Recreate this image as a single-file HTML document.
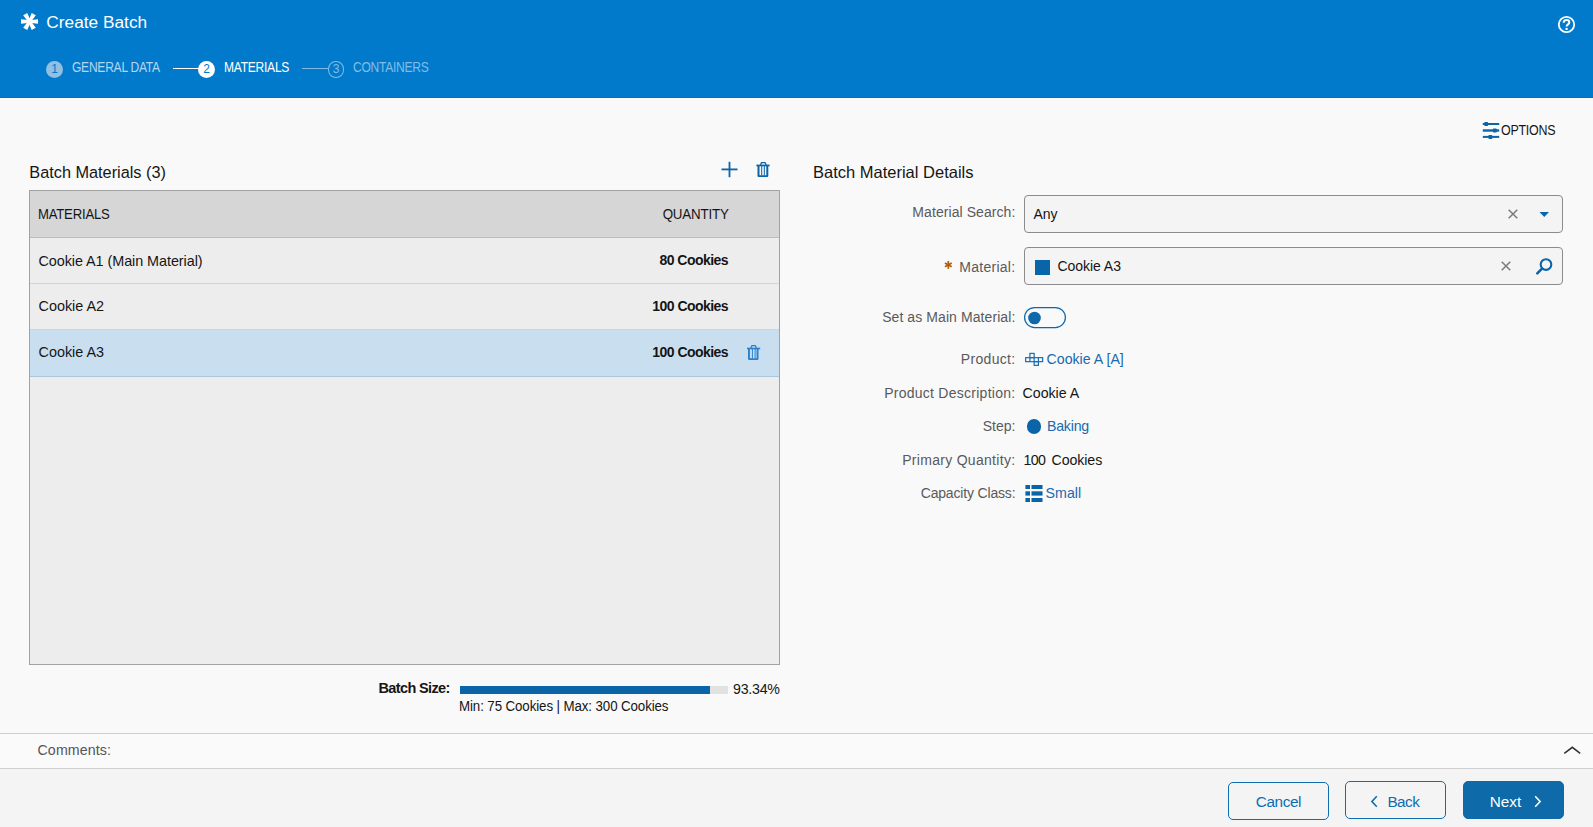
<!DOCTYPE html>
<html>
<head>
<meta charset="utf-8">
<title>Create Batch</title>
<style>
*{box-sizing:border-box;margin:0;padding:0}
html,body{width:1593px;height:827px;overflow:hidden;background:#f9f9f9;font-family:"Liberation Sans",Arial,sans-serif;color:#151515}
.a{position:absolute}
.t{position:absolute;white-space:nowrap;line-height:1}
#hdr{position:absolute;left:0;top:0;width:1593px;height:98px;background:#027acb;border-bottom:1px solid #0070c2}
#hdrw{position:absolute;left:0;top:98px;width:1593px;height:1px;background:#fff}
.circ{position:absolute;border-radius:50%;text-align:center;font-size:12px;line-height:17px}
.lbl{position:absolute;white-space:nowrap;line-height:1;font-size:14px;color:#5a5a5a;text-align:right;right:577.6px}
.box{position:absolute;left:1024px;width:539px;height:38px;background:#f4f4f4;border:1px solid #8c8c8c;border-radius:4px}
.btn{position:absolute;width:101px;height:38px;border:1.5px solid #0f6cb0;border-radius:5px;background:#f4f4f4}
</style>
</head>
<body>
<!-- HEADER -->
<div id="hdr"></div>
<div id="hdrw"></div>
<svg class="a" style="left:19px;top:11px" width="21" height="21" viewBox="-10.5 -10.5 21 21">
  <g fill="#fff">
    <polygon points="0,-1.3 0,1.3 -8.5,2.35 -8.5,-2.35"/>
    <polygon points="0,-1.3 0,1.3 8.5,2.35 8.5,-2.35"/>
    <polygon points="0,-1.3 0,1.3 -8.5,2.35 -8.5,-2.35" transform="rotate(60)"/>
    <polygon points="0,-1.3 0,1.3 -8.5,2.35 -8.5,-2.35" transform="rotate(120)"/>
    <polygon points="0,-1.3 0,1.3 -8.5,2.35 -8.5,-2.35" transform="rotate(240)"/>
    <polygon points="0,-1.3 0,1.3 -8.5,2.35 -8.5,-2.35" transform="rotate(300)"/>
    <circle r="1.8"/>
  </g>
</svg>
<div class="t" style="left:46.3px;top:13.6px;font-size:17.3px;color:#fff">Create Batch</div>

<!-- steps -->
<div class="circ" style="left:46px;top:61px;width:17px;height:17px;background:#90c0e3;color:#0279c9">1</div>
<div class="t" style="left:71.6px;top:59.8px;font-size:14.3px;color:#b3d6f1;letter-spacing:-0.3px;transform:scaleX(0.843);transform-origin:0 0">GENERAL DATA</div>
<div class="a" style="left:173px;top:68px;width:26px;height:1px;background:#fff"></div>
<div class="circ" style="left:198px;top:61px;width:17px;height:17px;background:#fff;color:#0279c9">2</div>
<div class="t" style="left:223.8px;top:59.8px;font-size:14.3px;color:#fff;letter-spacing:-0.3px;transform:scaleX(0.843);transform-origin:0 0">MATERIALS</div>
<div class="a" style="left:302px;top:68px;width:26px;height:1px;background:#80bde6"></div>
<div class="circ" style="left:327.8px;top:61.1px;width:16.5px;height:16.7px;border:1px solid #80bde6;color:#80bde6;line-height:14.2px">3</div>
<div class="t" style="left:352.8px;top:59.8px;font-size:14.3px;color:#80bde6;letter-spacing:-0.3px;transform:scaleX(0.843);transform-origin:0 0">CONTAINERS</div>

<!-- help -->
<svg class="a" style="left:1557px;top:15px" width="19" height="19" viewBox="0 0 19 19">
  <circle cx="9.5" cy="9.5" r="7.7" fill="none" stroke="#fff" stroke-width="1.8"/>
  <path d="M6.7 7.8 C6.7 5.6 8.1 5 9.5 5 C11 5 12.3 5.8 12.3 7.4 C12.3 9.3 9.6 9.5 9.6 11.5" fill="none" stroke="#fff" stroke-width="2"/>
  <circle cx="9.6" cy="13.9" r="1.2" fill="#fff"/>
</svg>

<!-- OPTIONS -->
<svg class="a" style="left:1482px;top:120px" width="19" height="20" viewBox="0 0 19 20">
  <g fill="#0a64a8">
    <rect x="0.8" y="3" width="16.4" height="2"/>
    <rect x="2.2" y="2" width="4" height="4" rx="1"/>
    <rect x="0.8" y="9.3" width="16.4" height="2.4"/>
    <rect x="10.8" y="8.5" width="4" height="4" rx="1"/>
    <rect x="0.8" y="15.9" width="16.4" height="2"/>
    <rect x="6.4" y="14.9" width="4" height="4" rx="1"/>
  </g>
</svg>
<div class="t" style="left:1501.3px;top:123px;font-size:14px;color:#151515;letter-spacing:-0.3px;transform:scaleX(0.89);transform-origin:0 0">OPTIONS</div>

<!-- LEFT PANEL -->
<div class="t" style="left:29.3px;top:164px;font-size:16.3px;color:#151515">Batch Materials (3)</div>
<svg class="a" style="left:721px;top:161px" width="18" height="18" viewBox="0 0 18 18">
  <rect x="0.5" y="7.5" width="16" height="1.8" fill="#0a64a8"/>
  <rect x="7.6" y="0.8" width="1.8" height="15.4" fill="#0a64a8"/>
</svg>
<svg class="a" style="left:755px;top:161px" width="16" height="17" viewBox="0 0 16 17">
  <g fill="#0a64a8">
    <path d="M5.5 3.9 L6.4 1.65 H10.2 L11.1 3.9" fill="none" stroke="#0a64a8" stroke-width="1.3" stroke-linejoin="round"/>
    <rect x="1.4" y="3.6" width="13.2" height="1.7"/>
    <path d="M2.5 5 h2 v9.3 h6.8 v-9.3 h2 v9.8 q0 1.2 -1.2 1.2 h-8.4 q-1.2 0 -1.2 -1.2 z"/>
    <rect x="6.2" y="5" width="1" height="9.5"/>
    <rect x="8.8" y="5" width="1" height="9.5"/>
  </g>
</svg>

<!-- table -->
<div class="a" style="left:29px;top:190px;width:751px;height:475px;border:1px solid #a2a2a2;background:#ededed"></div>
<div class="a" style="left:30px;top:191px;width:749px;height:46px;background:#d6d6d6"></div>
<div class="a" style="left:30px;top:237px;width:749px;height:1px;background:#bcbcbc"></div>
<div class="a" style="left:30px;top:283px;width:749px;height:1px;background:#d4d4d4"></div>
<div class="a" style="left:30px;top:329px;width:749px;height:1px;background:#d4d4d4"></div>
<div class="a" style="left:30px;top:330px;width:749px;height:46px;background:#c9dff0"></div>
<div class="a" style="left:30px;top:376px;width:749px;height:1px;background:#a9c8e0"></div>

<div class="t" style="left:37.8px;top:207px;font-size:14.3px;color:#151515;letter-spacing:-0.2px;transform:scaleX(0.916);transform-origin:0 0">MATERIALS</div>
<div class="t" style="right:864.6px;top:207px;font-size:14.3px;color:#151515;letter-spacing:-0.2px;transform:scaleX(0.934);transform-origin:100% 0">QUANTITY</div>

<div class="t" style="left:38.5px;top:253.5px;font-size:14.4px;letter-spacing:-0.06px">Cookie A1 (Main Material)</div>
<div class="t" style="left:38.5px;top:299px;font-size:14.4px">Cookie A2</div>
<div class="t" style="left:38.5px;top:345px;font-size:14.4px">Cookie A3</div>
<div class="t" style="right:865px;top:253px;font-size:14px;font-weight:bold;text-align:right;letter-spacing:-0.55px">80 Cookies</div>
<div class="t" style="right:865px;top:299px;font-size:14px;font-weight:bold;text-align:right;letter-spacing:-0.55px">100 Cookies</div>
<div class="t" style="right:865px;top:345px;font-size:14px;font-weight:bold;text-align:right;letter-spacing:-0.55px">100 Cookies</div>
<svg class="a" style="left:746px;top:344px" width="16" height="17" viewBox="0 0 16 17">
  <g fill="#2a7fd0">
    <path d="M4.9 4 L5.8 1.65 H9.4 L10.3 4" fill="none" stroke="#2a7fd0" stroke-width="1.3" stroke-linejoin="round"/>
    <rect x="1" y="3.7" width="13.2" height="1.6"/>
    <path d="M2 5 h1.9 v9.2 h6.7 v-9.2 h1.9 v9.8 q0 1.2 -1.2 1.2 h-8.1 q-1.2 0 -1.2 -1.2 z"/>
    <rect x="5.9" y="5" width="1" height="9.3"/>
    <rect x="8.6" y="5" width="1" height="9.3"/>
  </g>
</svg>

<!-- batch size -->
<div class="t" style="left:378.5px;top:681px;font-size:14.5px;font-weight:bold;color:#151515;letter-spacing:-0.63px">Batch Size:</div>
<div class="a" style="left:460px;top:686px;width:268px;height:8px;background:#e2e2e2"></div>
<div class="a" style="left:460px;top:686px;width:250px;height:8px;background:#0a64a8"></div>
<div class="t" style="left:733px;top:681.5px;font-size:14.2px;color:#151515;letter-spacing:-0.24px">93.34%</div>
<div class="t" style="left:459.3px;top:699.2px;font-size:14px;color:#151515;letter-spacing:-0.1px;transform:scaleX(0.95);transform-origin:0 0">Min: 75 Cookies | Max: 300 Cookies</div>

<!-- RIGHT PANEL -->
<div class="t" style="left:813px;top:164.3px;font-size:16.5px;color:#151515">Batch Material Details</div>

<div class="lbl" style="top:204.7px;letter-spacing:0.07px">Material Search:</div>
<svg class="a" style="left:943px;top:259px" width="11" height="12" viewBox="0 0 11 12">
  <g stroke="#b45d08" stroke-width="1.7" stroke-linecap="butt">
    <line x1="5.3" y1="2" x2="5.3" y2="9.8"/>
    <line x1="1.9" y1="3.95" x2="8.7" y2="7.85"/>
    <line x1="1.9" y1="7.85" x2="8.7" y2="3.95"/>
  </g>
</svg>
<div class="lbl" style="top:260px;letter-spacing:0.27px">Material:</div>
<div class="lbl" style="top:309.8px;letter-spacing:0.085px">Set as Main Material:</div>
<div class="lbl" style="top:352.1px;letter-spacing:0.3px">Product:</div>
<div class="lbl" style="top:386px;letter-spacing:0.26px">Product Description:</div>
<div class="lbl" style="top:418.7px">Step:</div>
<div class="lbl" style="top:452.8px;letter-spacing:0.3px">Primary Quantity:</div>
<div class="lbl" style="top:485.7px;letter-spacing:-0.17px">Capacity Class:</div>

<div class="box" style="top:195px"></div>
<div class="t" style="left:1033.5px;top:206.8px;font-size:14px">Any</div>
<svg class="a" style="left:1507px;top:208px" width="12" height="12" viewBox="0 0 12 12">
  <path d="M1.7 1.7 L10.3 10.3 M10.3 1.7 L1.7 10.3" stroke="#7a7a7a" stroke-width="1.5"/>
</svg>
<svg class="a" style="left:1538px;top:210px" width="12" height="8" viewBox="0 0 12 8">
  <path d="M1.5 2 L11 2 L6.25 7 Z" fill="#0a64a8"/>
</svg>

<div class="box" style="top:247px"></div>
<div class="a" style="left:1035px;top:260px;width:15px;height:15px;background:#0a64a8"></div>
<div class="t" style="left:1057.5px;top:259.2px;font-size:14px;letter-spacing:-0.05px">Cookie A3</div>
<svg class="a" style="left:1500px;top:260px" width="12" height="12" viewBox="0 0 12 12">
  <path d="M1.7 1.7 L10.3 10.3 M10.3 1.7 L1.7 10.3" stroke="#7a7a7a" stroke-width="1.5"/>
</svg>
<svg class="a" style="left:1534px;top:256px" width="22" height="20" viewBox="0 0 22 20">
  <circle cx="12" cy="8.6" r="5.3" fill="none" stroke="#0a64a8" stroke-width="2.1"/>
  <path d="M8 12.6 L3.3 17.3" stroke="#0a64a8" stroke-width="2.6" stroke-linecap="round"/>
</svg>

<!-- toggle -->
<svg class="a" style="left:1023px;top:306px" width="44" height="23" viewBox="0 0 44 23">
  <rect x="1.6" y="1.5" width="40.8" height="20" rx="10" fill="none" stroke="#0f68aa" stroke-width="1.25"/>
  <circle cx="11.5" cy="12" r="6.3" fill="#0f68aa"/>
</svg>

<!-- product -->
<svg class="a" style="left:1024px;top:352px" width="20" height="15" viewBox="0 0 20 15">
  <g fill="none" stroke="#1b6db2" stroke-width="1.2">
    <rect x="1.65" y="5.65" width="17" height="4"/>
    <line x1="5.9" y1="5.65" x2="5.9" y2="9.65"/>
    <line x1="10.15" y1="5.65" x2="10.15" y2="9.65"/>
    <line x1="14.4" y1="5.65" x2="14.4" y2="9.65"/>
    <rect x="5.9" y="1.4" width="4.25" height="4.25"/>
    <rect x="10.15" y="9.65" width="4.25" height="3.7"/>
  </g>
</svg>
<div class="t" style="left:1046.5px;top:352.1px;font-size:14.2px;color:#1a6aae">Cookie A [A]</div>
<div class="t" style="left:1022.5px;top:386px;font-size:14.2px">Cookie A</div>
<div class="a" style="left:1026.5px;top:419.3px;width:14.6px;height:14.6px;border-radius:50%;background:#0a64a8"></div>
<div class="t" style="left:1047px;top:418.7px;font-size:14.2px;color:#1a6aae;letter-spacing:-0.24px">Baking</div>
<div class="t" style="left:1023.5px;top:452.8px;font-size:14.2px;letter-spacing:-0.6px">100</div><div class="t" style="left:1051.5px;top:452.8px;font-size:14.2px;letter-spacing:-0.08px">Cookies</div>
<svg class="a" style="left:1025px;top:484px" width="19" height="19" viewBox="0 0 19 19">
  <g fill="#0a64a8">
    <rect x="0.4" y="1" width="4.6" height="4"/>
    <rect x="6.5" y="1" width="11" height="4"/>
    <rect x="0.4" y="7.3" width="4.6" height="4.3"/>
    <rect x="6.5" y="7.3" width="11" height="4.3"/>
    <rect x="0.4" y="14" width="4.6" height="4"/>
    <rect x="6.5" y="14" width="11" height="4"/>
  </g>
</svg>
<div class="t" style="left:1045.6px;top:485.7px;font-size:14.2px;color:#1a6aae">Small</div>

<!-- COMMENTS -->
<div class="a" style="left:0;top:733px;width:1593px;height:1px;background:#cfcfcf"></div>
<div class="a" style="left:0;top:734px;width:1593px;height:34px;background:#fafafa"></div>
<div class="t" style="left:37.5px;top:742.8px;font-size:14.2px;color:#555;letter-spacing:0.12px">Comments:</div>
<svg class="a" style="left:1562px;top:745px" width="20" height="11" viewBox="0 0 20 11">
  <path d="M2.3 8.4 L10.3 2.3 L18.2 8.4" fill="none" stroke="#333" stroke-width="1.5"/>
</svg>
<div class="a" style="left:0;top:768px;width:1593px;height:1px;background:#cfcfcf"></div>

<!-- FOOTER -->
<div class="a" style="left:0;top:769px;width:1593px;height:58px;background:#f4f4f4"></div>
<div class="btn" style="left:1228px;top:782px"></div>
<div class="t" style="left:1255.8px;top:794.2px;font-size:15.3px;color:#0f6cb0;letter-spacing:-0.4px">Cancel</div>
<div class="btn" style="left:1345px;top:781px"></div>
<svg class="a" style="left:1369px;top:794px" width="10" height="15" viewBox="0 0 10 15">
  <path d="M7.8 2.3 L2.9 7.55 L7.8 12.8" fill="none" stroke="#0f6cb0" stroke-width="1.6"/>
</svg>
<div class="t" style="left:1387.4px;top:794.2px;font-size:15.3px;color:#0f6cb0;letter-spacing:-0.53px">Back</div>
<div class="btn" style="left:1463px;top:781px;background:#0e6aa8;border-color:#0e6aa8"></div>
<div class="t" style="left:1489.7px;top:794.2px;font-size:15.3px;color:#fff">Next</div>
<svg class="a" style="left:1533px;top:794px" width="10" height="15" viewBox="0 0 10 15">
  <path d="M2.2 2.3 L7.1 7.55 L2.2 12.8" fill="none" stroke="#fff" stroke-width="1.6"/>
</svg>
</body>
</html>
